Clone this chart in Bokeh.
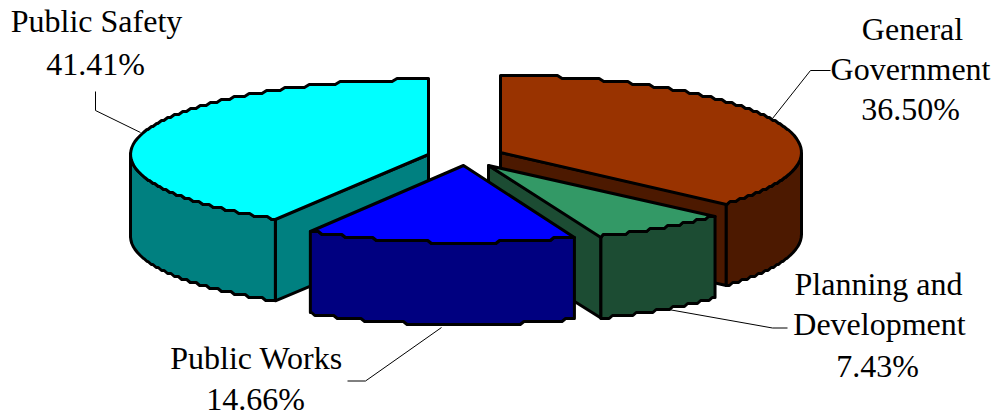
from math import pi
import numpy as np
from bokeh.plotting import figure
from bokeh.models import Range1d
from bokeh.core.properties import value
from bokeh.embed import file_html
from bokeh.resources import INLINE

categories = ["General Government", "Planning and Development", "Public Works", "Public Safety"]
shares = [36.50, 7.43, 14.66, 41.41]
top_colors = ["#993300", "#339966", "#0000FF", "#00FFFF"]
side_colors = ["#4C1900", "#1C4C33", "#000080", "#008080"]
centers_x = [500, 488, 463, 428]
centers_y = [152, 165, 165, 154]
radii_x = [301, 302, 298, 298]
radii_y = [77, 76, 77, 75]
label_lines = [["General", "Government", "36.50%"], ["Planning and", "Development", "7.43%"],
               ["Public Works", "14.66%"], ["Public Safety", "41.41%"]]
label_x = [[912, 910, 910], [878, 879, 877], [256, 255], [96, 95]]
label_y = [[28, 68, 108], [283, 323, 365], [357, 398], [20, 63]]
leader_x = [[772, 810, 830], [668, 772, 787], [441, 365, 347], [140, 95, 95]]
leader_y = [[118, 70, 70], [309, 327.5, 327.5], [327, 380.5, 380.5], [132, 110, 91]]

DEPTH = 82
FONT = "Liberation Serif"
FONT_SIZE = "32px"
DRAW_ORDER = [0, 3, 1, 2]

def stair(xs, ys, q=3.0, gap=1.5):
    """Reproduce the stepped look of the low resolution ellipse outline."""
    xs, ys = np.asarray(xs), np.round(np.asarray(ys) / q) * q
    out_x, out_y = [xs[0]], [ys[0]]
    i = 0
    while i < len(xs):
        j = i
        while j + 1 < len(xs) and ys[j + 1] == ys[i]:
            j += 1
        x0, x1 = xs[i], xs[j]
        sgn = np.sign(x1 - x0) if x1 != x0 else 0
        if abs(x1 - x0) > 2 * gap:
            out_x += [x0 + sgn * gap, x1 - sgn * gap]
            out_y += [ys[i], ys[i]]
        else:
            out_x.append((x0 + x1) / 2)
            out_y.append(ys[i])
        i = j + 1
    out_x.append(xs[-1]); out_y.append(ys[-1])
    return np.array(out_x), np.array(out_y)

def arc(cx, cy, rx, ry, a0, a1, dy=0):
    t = np.linspace(a0, a1, 400)
    return stair(cx + rx * np.sin(t), cy + dy - ry * np.cos(t))

p = figure(width=995, height=415, x_range=Range1d(0, 995), y_range=Range1d(415, 0),
           toolbar_location=None, output_backend="svg", min_border=0, outline_line_color=None)
p.axis.visible = False
p.grid.visible = False

edges = np.cumsum([0] + shares) / sum(shares) * 2 * pi

def poly(xs, ys, color):
    p.patch(list(xs), list(ys), fill_color=color, line_color="black", line_width=3, line_join="round")

for i in DRAW_ORDER:
    a0, a1 = edges[i], edges[i + 1]
    cx, cy, rx, ry = centers_x[i], centers_y[i], radii_x[i], radii_y[i]
    # cut faces that look towards the viewer
    for a in (a0, a1):
        if (a == a1 and i in (0, 1)) or (a == a0 and i == 3):
            ex, ey = cx + rx * np.sin(a), cy - ry * np.cos(a)
            poly([cx, ex, ex, cx], [cy, ey, ey + DEPTH, cy + DEPTH], side_colors[i])
    # outer wall (only the front half of the ellipse)
    w0, w1 = max(a0, pi / 2), min(a1, 3 * pi / 2)
    if w1 > w0:
        ax, ay = arc(cx, cy, rx, ry, w0, w1)
        bx, by = arc(cx, cy, rx, ry, w0, w1, DEPTH)
        poly(np.r_[ax, bx[::-1]], np.r_[ay, by[::-1]], side_colors[i])
    # top face
    tx, ty = arc(cx, cy, rx, ry, a0, a1)
    poly(np.r_[cx, tx], np.r_[cy, ty], top_colors[i])

for xs, ys in zip(leader_x, leader_y):
    p.line(xs, ys, line_color="black", line_width=1)

for lines, xs, ys in zip(label_lines, label_x, label_y):
    p.text(xs, ys, text=lines, text_font=value(FONT), text_font_size=value(FONT_SIZE),
           text_color="black", text_align="center", text_baseline="alphabetic")

open("out.html", "w").write(file_html(p, INLINE))
